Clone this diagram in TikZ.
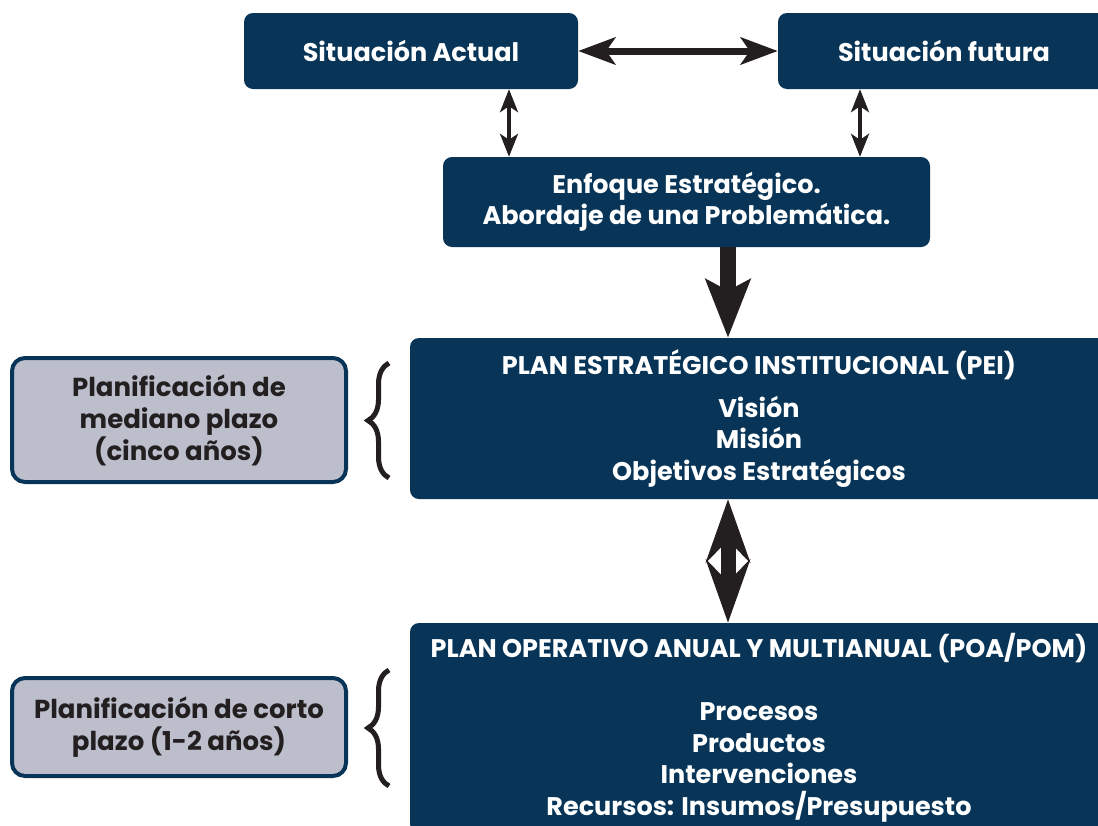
\documentclass[tikz,border=0pt]{standalone}
\usepackage{fontspec}
\setmainfont{Poppins}
\usepackage{tikz}
\usetikzlibrary{calc}
\usetikzlibrary{arrows.meta}
\usetikzlibrary{decorations.pathreplacing}
\definecolor{boxblue}{RGB}{8,53,87}
\definecolor{boxgray}{RGB}{188,190,203}
\definecolor{inkblack}{RGB}{35,31,32}
\tikzset{
  bluebox/.style={fill=boxblue, rounded corners=9pt, text=white, align=center, inner sep=0pt,
    font=\bfseries\fontsize{25.5}{31.5}\selectfont},
  graybox/.style={fill=boxgray, draw=boxblue, line width=4pt, rounded corners=13pt, text=inkblack,
    align=center, inner sep=0pt, minimum width=334pt, font=\bfseries\fontsize{26}{32}\selectfont},
  thinarrow/.style={inkblack, line width=3.5pt, {Stealth[length=23pt,width=18pt,inset=6pt]}-{Stealth[length=23pt,width=18pt,inset=6pt]}},
  wideheads/.style={inkblack, line width=7pt, {Stealth[length=37pt,width=27pt,inset=9pt]}-{Stealth[length=37pt,width=27pt,inset=9pt]}},
  fatarrow/.style={inkblack, line width=16pt, -{Stealth[length=58pt,width=44pt,inset=11pt]}},
  fatdouble/.style={inkblack, line width=15pt, {Stealth[length=63pt,width=44pt,inset=22pt]}-{Stealth[length=63pt,width=44pt,inset=22pt]}},
  bracket/.style={inkblack, line width=5pt, decorate, decoration={brace, amplitude=21pt}}
}
\newcommand{\leftbrace}[3]{\draw[bracket] (#1,#3) -- (#1,#2);}

\begin{document}
\begin{tikzpicture}[x=1pt, y=-1pt]
    \clip (0,0) rectangle (1098,825);
    \fill[white] (0,0) rectangle (1098,825);
    % top row
    \node[bluebox, minimum width=334pt, minimum height=76pt] (act) at (411,51) {Situación Actual};
    \node[bluebox, minimum width=332pt, minimum height=76pt] (fut) at (944,51) {Situación futura};
    % strategic focus
    \node[bluebox, minimum width=487pt, minimum height=90pt] (enf) at (686.5,202) {Enfoque Estratégico.\\Abordaje de una Problemática.};
    % plans
    \node[bluebox, minimum width=698pt, minimum height=161pt] (pei) at (759,418.5)
        {PLAN ESTRATÉGICO INSTITUCIONAL (PEI)\\[11pt]Visión\\Misión\\Objetivos Estratégicos};
    \node[bluebox, minimum width=698pt, minimum height=210pt] (poa) at (759,728)
        {PLAN OPERATIVO ANUAL Y MULTIANUAL (POA/POM)\\ \\Procesos\\Productos\\Intervenciones\\Recursos: Insumos/Presupuesto};
    % horizons
    \node[graybox, minimum height=124pt] (med) at (179,420) {Planificación de\\mediano plazo\\(cinco años)};
    \node[graybox, minimum height=98pt] (cor) at (179,727) {Planificación de corto\\plazo (1-2 años)};
    \leftbrace{389}{363}{478}
    \leftbrace{389}{670}{786}
    % arrows
    \coordinate (xl) at (509,0);
    \coordinate (xr) at (860,0);
    \coordinate (xm) at (728,0);
    \draw[wideheads] (act.east) -- (fut.west);
    \draw[thinarrow] (act.south -| xl) -- (enf.north -| xl);
    \draw[thinarrow] (fut.south -| xr) -- (enf.north -| xr);
    \draw[fatarrow] (enf.south -| xm) -- (pei.north -| xm);
    \draw[fatdouble] (pei.south -| xm) -- (poa.north -| xm);
\end{tikzpicture}
\end{document}
